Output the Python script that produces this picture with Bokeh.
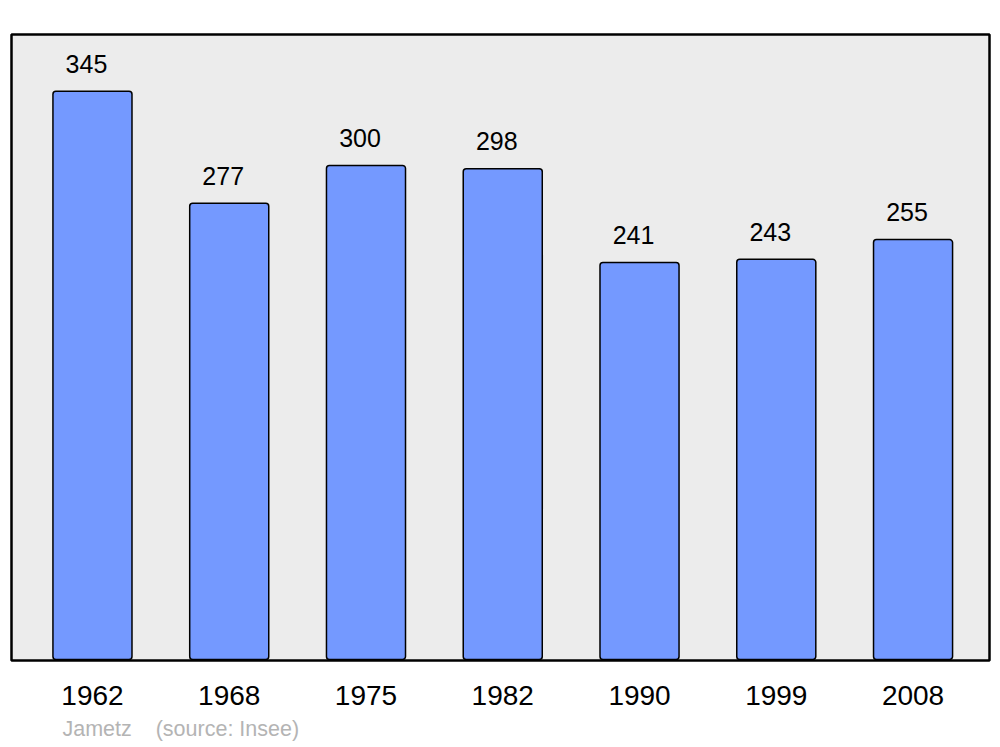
from bokeh.plotting import figure
from bokeh.models import Range1d, FixedTicker, ColumnDataSource, LabelSet, Title
from bokeh.core.properties import value
from bokeh.embed import file_html
from bokeh.resources import INLINE

years = ["1962", "1968", "1975", "1982", "1990", "1999", "2008"]
population = [345, 277, 300, 298, 241, 243, 255]
commune = "Jametz"
source_note = "(source: Insee)"

xs = list(range(len(years)))
src = ColumnDataSource(data=dict(x=xs, pop=population,
                                 lab=[str(v) for v in population]))

p = figure(width=995, height=747, output_backend="svg", toolbar_location=None,
           x_range=Range1d(-0.592, 6.559), y_range=Range1d(-0.6, 379.5),
           min_border_left=11, min_border_right=6, min_border_top=34,
           min_border_bottom=87)
p.background_fill_color = "#ececec"
p.border_fill_color = "white"
p.outline_line_color = "black"
p.outline_line_width = 2.5
p.xgrid.visible = False
p.ygrid.visible = False
p.yaxis.visible = False

p.vbar(x="x", top="pop", bottom=0, width=0.578, source=src,
       fill_color="#7499ff", line_color="black", line_width=1.5,
       border_radius=3)

labels = LabelSet(x="x", y="pop", text="lab", source=src, x_offset=-6,
                  y_offset=18.5, text_align="center",
                  text_baseline="alphabetic", text_font=value("Liberation Sans"),
                  text_font_size="25px", text_color="black")
p.add_layout(labels)

ax = p.xaxis[0]
ax.ticker = FixedTicker(ticks=xs)
ax.major_label_overrides = {i: y for i, y in enumerate(years)}
ax.axis_line_color = None
ax.major_tick_line_color = None
ax.minor_tick_line_color = None
ax.major_label_text_font = "Liberation Sans"
ax.major_label_text_font_size = "28px"
ax.major_label_text_color = "black"
ax.major_label_standoff = 19

footer = Title(text=commune + "\u00a0\u00a0\u00a0 " + source_note,
               align="left", offset=51, text_font="Liberation Sans",
               text_font_size="21.5px", text_font_style="normal",
               text_color="#b4b4b4", standoff=14)
p.add_layout(footer, "below")

open("out.html", "w").write(file_html(p, INLINE))
